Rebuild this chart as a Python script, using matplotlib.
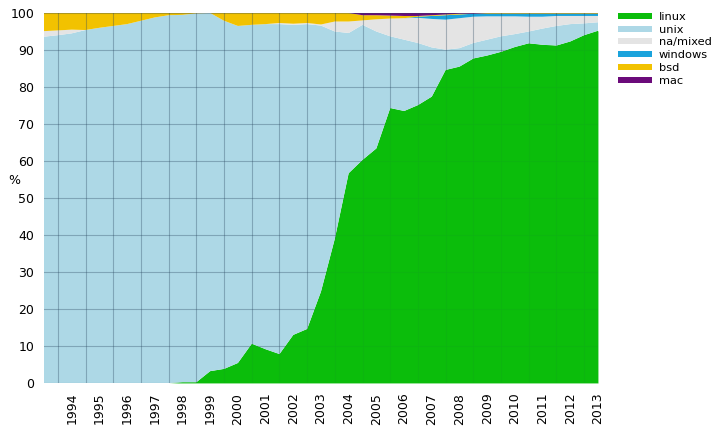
import matplotlib
matplotlib.use('Agg')
import matplotlib.pyplot as plt
import numpy as np

# una lista cada seis meses, de 1993 a 2013
fechas = 1993 + 0.5 * np.arange(41)

linux = [0, 0, 0, 0, 0, 0, 0, 0, 0, 0,
         0.2, 0.2, 3.2, 3.8, 5.4, 10.6, 9.1, 7.8, 13.0, 14.6,
         24.7, 39.0, 56.7, 60.3, 63.4, 74.3, 73.5, 75.1, 77.4, 84.6,
         85.5, 87.7, 88.5, 89.5, 90.8, 91.8, 91.4, 91.2, 92.3, 94.0,
         95.2]
unix = [93.6, 94.0, 94.5, 95.4, 96.0, 96.5, 97.0, 97.9, 98.8, 99.4,
        99.3, 99.7, 96.8, 94.1, 91.1, 86.2, 87.9, 89.2, 83.8, 82.4,
        71.9, 56.0, 37.9, 36.5, 31.6, 19.4, 19.3, 16.8, 13.3, 5.5,
        5.0, 4.2, 4.3, 4.2, 3.5, 3.2, 4.4, 5.3, 4.7, 3.2,
        2.3]
na_mixed = [1.5, 1.3, 1.0, 0, 0, 0, 0, 0, 0, 0,
            0, 0, 0, 0, 0, 0, 0, 0.3, 0.3, 0.3,
            0.3, 2.7, 3.1, 1.2, 3.3, 4.8, 5.8, 6.8, 7.7, 8.1,
            8.1, 7.1, 6.3, 5.4, 4.8, 4.0, 3.2, 2.7, 2.2, 2.0,
            1.7]
windows = [0] * 27 + [0.3, 0.8, 1.2, 1.0, 0.8, 0.7, 0.7, 0.7, 0.8, 0.8,
                      0.6, 0.6, 0.6, 0.6]
bsd = [4.9, 4.7, 4.5, 4.6, 4.0, 3.5, 3.0, 2.1, 1.2, 0.6,
       0.5, 0.1, 0, 2.1, 3.5, 3.2, 3.0, 2.7, 2.9, 2.7,
       3.1, 2.3, 2.3, 1.4, 1.1, 0.8, 0.6, 0.2, 0.2, 0.2,
       0.2, 0, 0.2, 0.2, 0.2, 0.2, 0.2, 0.2, 0.2, 0.2,
       0.2]
mac = [0] * 23 + [0.6, 0.6, 0.7, 0.8, 0.8, 0.6, 0.4, 0.2, 0.2] + [0] * 9

nombres = ['linux', 'unix', 'na/mixed', 'windows', 'bsd', 'mac']
colores = ['#0bbd0b', '#add8e6', '#e4e4e4', '#1aa3dc', '#f2c200', '#6b0a7a']
anios = list(range(1994, 2014))

fig = plt.figure(figsize=(7.2, 4.32), dpi=100)
ax = fig.add_axes([44/720, 1 - 383/432, 554/720, 370/432])

ax.stackplot(fechas, linux, unix, na_mixed, windows, bsd, mac,
             labels=nombres, colors=colores, linewidth=0, zorder=1)

ax.set_xlim(1993, 2013)
ax.set_ylim(0, 100)
ax.set_yticks(range(0, 101, 10))
ax.set_xticks(anios)
ax.set_xticklabels([str(a) for a in anios], rotation=90)
ax.set_xticks(np.arange(1993.5, 2013, 1), minor=True)
ax.tick_params(axis='both', which='both', length=0, labelsize=9, pad=7)

# grilla arriba de las areas
ax.set_axisbelow(False)
ax.grid(axis='y', which='major', color='#2a4860', alpha=0.35, linewidth=0.8, zorder=2)
ax.grid(axis='x', which='minor', color='#2a4860', alpha=0.35, linewidth=0.8, zorder=2)
# el verde casi tapa la grilla
ax.fill_between(fechas, 0, linux, color=colores[0], alpha=0.85, linewidth=0, zorder=3)
for s in ax.spines.values():
    s.set_visible(False)

ax.set_ylabel('%', rotation=0, fontsize=9, va='center')
ax.yaxis.set_label_coords(-0.054, 0.546)

fig.legend(*ax.get_legend_handles_labels(), loc='upper left',
           bbox_to_anchor=(618/720, 1 - 12/432), frameon=False, fontsize=8.2,
           handlelength=3.0, handleheight=0.45, handletextpad=0.6,
           labelspacing=0.24, borderpad=0, borderaxespad=0)

plt.savefig('out.png', dpi=100)
